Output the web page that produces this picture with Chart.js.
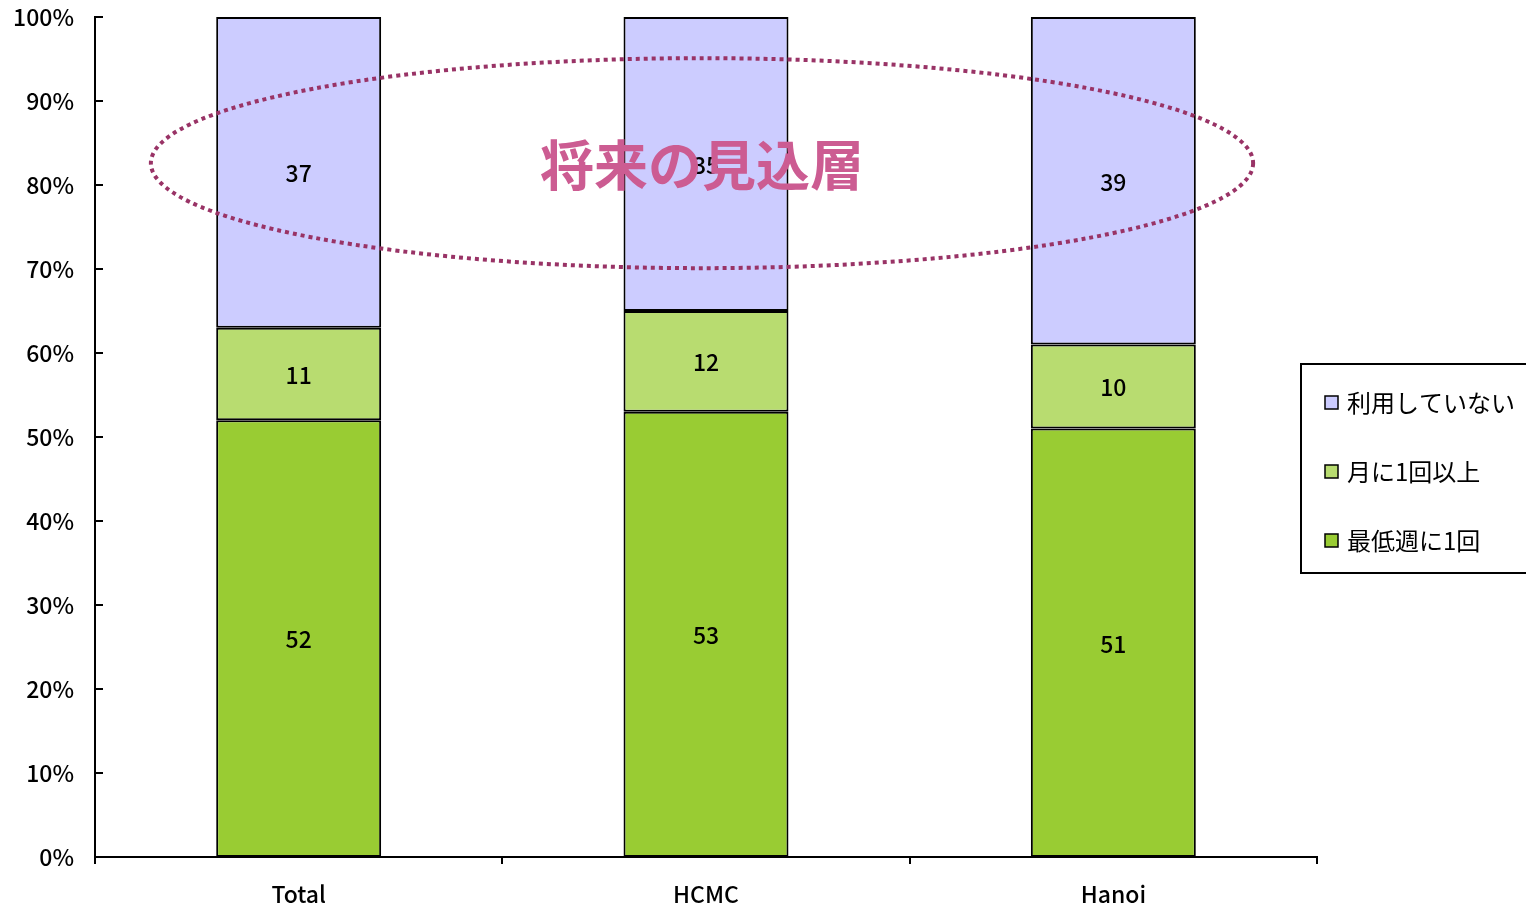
<!DOCTYPE html>
<html>
<head>
<meta charset="utf-8">
<script src="https://cdn.jsdelivr.net/npm/chart.js@4.4.0/dist/chart.umd.min.js"></script>
<style>
  html, body { margin: 0; padding: 0; background: #fff; }
  #wrap { width: 1526px; height: 910px; }
</style>
</head>
<body>
<div id="wrap"><canvas id="chart" width="1526" height="910"></canvas></div>
<script>
// data
const categories = ["Total", "HCMC", "Hanoi"];
const weekly = [52, 53, 51];      // 最低週に1回
const monthly = [11, 12, 10];     // 月に1回以上
const notUsing = [37, 35, 39];    // 利用していない
const seriesNames = ["最低週に1回", "月に1回以上", "利用していない"];
const seriesColors = ["#99CC33", "#B8DC70", "#CCCCFF"];
const yTicks = [0, 10, 20, 30, 40, 50, 60, 70, 80, 90, 100];
const noteText = "将来の見込層";

const FONT = '"Noto Sans CJK JP", "Noto Sans", sans-serif';

// labels inside each segment, inside ticks on y, ellipse + note, legend
const extras = {
  id: "extras",
  afterDatasetsDraw(chart) {
    const ctx = chart.ctx;
    const area = chart.chartArea;
    const y = chart.scales.y;

    ctx.save();
    // inside ticks on y axis
    ctx.strokeStyle = "#000";
    ctx.lineWidth = 2;
    yTicks.forEach(t => {
      const py = Math.round(y.getPixelForValue(t));
      ctx.beginPath();
      ctx.moveTo(area.left, py);
      ctx.lineTo(area.left + 8, py);
      ctx.stroke();
    });

    // segment values
    ctx.fillStyle = "#000";
    ctx.font = "500 23px " + FONT;
    ctx.textAlign = "center";
    ctx.textBaseline = "middle";
    chart.data.datasets.forEach((ds, i) => {
      chart.getDatasetMeta(i).data.forEach((bar, j) => {
        ctx.fillText(ds.data[j], bar.x, (bar.y + bar.base) / 2 + 1);
      });
    });

    // dotted ellipse around the top segments
    const cx = (area.left + area.right) / 2 - 4;
    const cy = y.getPixelForValue(82.6);
    const rx = (area.right - area.left) * 0.451;
    const ry = (y.getPixelForValue(70) - y.getPixelForValue(95)) / 2;
    ctx.strokeStyle = "#993366";
    ctx.lineWidth = 4;
    ctx.setLineDash([4, 4]);
    ctx.beginPath();
    ctx.ellipse(cx, cy, rx, ry, 0, 0, Math.PI * 2);
    ctx.stroke();
    ctx.setLineDash([]);

    ctx.fillStyle = "#CC5C92";
    ctx.font = "bold 54px " + FONT;
    ctx.fillText(noteText, cx, cy + 2);

    // legend box
    const lx = area.right - 16, ly = 364, lw = 260, lh = 209;
    ctx.strokeStyle = "#000";
    ctx.lineWidth = 2;
    ctx.strokeRect(lx, ly, lw, lh);
    ctx.font = "24px " + FONT;
    ctx.textAlign = "left";
    const rows = [2, 1, 0];
    rows.forEach((s, k) => {
      const ry2 = 403 + k * 69;
      ctx.fillStyle = seriesColors[s];
      ctx.fillRect(lx + 24, ry2 - 7, 13, 13);
      ctx.lineWidth = 1.5;
      ctx.strokeRect(lx + 24, ry2 - 7, 13, 13);
      ctx.fillStyle = "#000";
      ctx.fillText(seriesNames[s], lx + 46, ry2);
    });
    ctx.restore();
  }
};

new Chart(document.getElementById("chart"), {
  type: "bar",
  data: {
    labels: categories,
    datasets: [weekly, monthly, notUsing].map((d, i) => ({
      label: seriesNames[i],
      data: d,
      backgroundColor: seriesColors[i],
      borderColor: "#000",
      borderWidth: 2,
      borderSkipped: false,
      barPercentage: 0.81,
      categoryPercentage: 0.5
    }))
  },
  options: {
    responsive: false,
    animation: false,
    layout: { padding: { top: 17, right: 209, left: 0, bottom: 0 } },
    plugins: { legend: { display: false }, tooltip: { enabled: false } },
    scales: {
      x: {
        stacked: true,
        grid: { display: true, drawOnChartArea: false, drawTicks: true, tickLength: 7, color: "#000", lineWidth: 2, offset: true },
        border: { display: true, color: "#000", width: 2 },
        ticks: { color: "#000", font: { family: FONT, size: 23, weight: "500" }, padding: 16 },
        afterFit(scale) { scale.height = 53; scale.paddingLeft = 0; scale.paddingRight = 0; }
      },
      y: {
        stacked: true,
        min: 0,
        max: 100,
        afterBuildTicks(scale) { scale.ticks = yTicks.map(v => ({ value: v })); },
        grid: { display: false, drawTicks: false },
        border: { display: true, color: "#000", width: 2 },
        ticks: {
          color: "#000",
          font: { family: FONT, size: 23, weight: "500" },
          padding: 21,
          callback: v => v + "%"
        },
        afterFit(scale) { scale.width = 95; scale.paddingTop = 0; scale.paddingBottom = 0; }
      }
    }
  },
  plugins: [extras]
});
</script>
</body>
</html>
